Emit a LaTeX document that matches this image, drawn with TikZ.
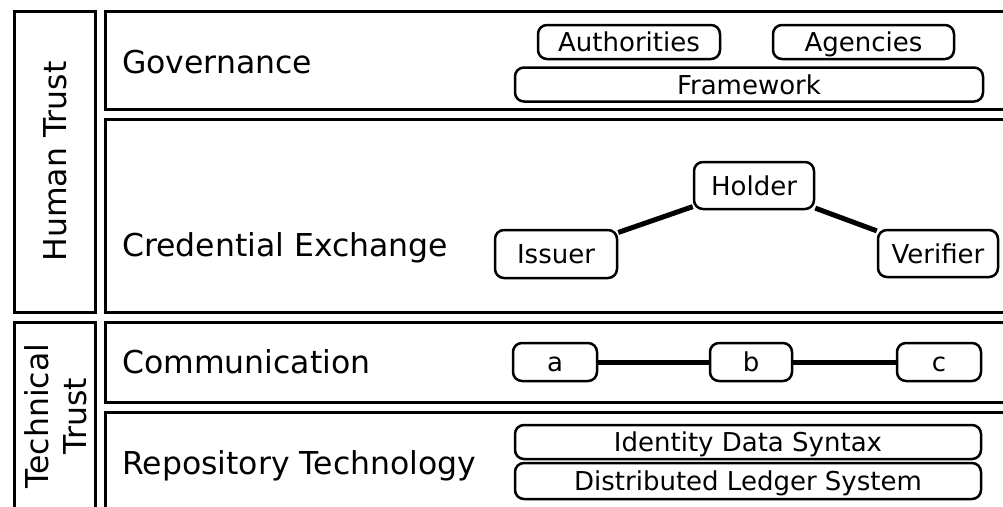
\documentclass[tikz,border=0pt]{standalone}
\usepackage{fontspec}
\setmainfont{DejaVu Sans}
\begin{document}
\begin{tikzpicture}[x=1pt,y=-1pt,
  layer/.style={draw, line width=3pt},
  big/.style={inner sep=0pt, font=\fontsize{31.5}{38}\selectfont},
  item/.style={draw, line width=2.5pt, rounded corners=9pt, inner sep=0pt,
    text height=19pt, text depth=0pt, font=\fontsize{26}{31}\selectfont},
  link/.style={line width=5pt}]
\useasboundingbox (0,0) rectangle (1003,506);
\clip (0,0) rectangle (1003,506);

% trust columns
\draw[layer] (14,11) rectangle (95,312);
\draw[layer] (14,322) rectangle (95,512);
\node[big, rotate=90] (human) at (55,161.5) {Human Trust};
\node[big, rotate=90, align=center] (technical) at (56,416) {Technical\\Trust};

% layer bands
\draw[layer] (105,11) rectangle (1012,109);
\draw[layer] (105,119) rectangle (1012,312);
\draw[layer] (105,322) rectangle (1012,402);
\draw[layer] (105,412) rectangle (1012,512);

\node[big, anchor=base west] (gov) at (122,73.5) {Governance};
\node[big, anchor=base west] (cred) at (122,256.5) {Credential Exchange};
\node[big, anchor=base west] (comm) at (122,373.5) {Communication};
\node[big, anchor=base west] (repo) at (122,474) {Repository Technology};

% governance items
\node[item, minimum width=182pt, minimum height=34pt] (auth) at (629,42) {Authorities};
\node[item, minimum width=181pt, minimum height=34pt] (agen) at (863.5,42) {Agencies};
\node[item, minimum width=468pt, minimum height=34pt] (frame) at (749,84.5) {Framework};

% credential exchange roles
\node[item, minimum width=120pt, minimum height=47pt] (holder) at (754,185.5) {Holder};
\node[item, minimum width=122pt, minimum height=48pt] (issuer) at (556,254) {Issuer};
\node[item, minimum width=120pt, minimum height=47pt] (verifier) at (938,253.5) {Verifier};
\draw[link] (issuer) -- (holder);
\draw[link] (holder) -- (verifier);

% communication chain
\node[item, minimum width=84pt, minimum height=38pt] (a) at (555,362) {a};
\node[item, minimum width=82pt, minimum height=38pt] (b) at (751,362) {b};
\node[item, minimum width=84pt, minimum height=38pt] (c) at (939,362) {c};
\draw[link] (a) -- (b);
\draw[link] (b) -- (c);

% repository items
\node[item, minimum width=466pt, minimum height=34pt] (ids) at (748,442) {Identity Data Syntax};
\node[item, minimum width=466pt, minimum height=36pt] (dls) at (748,481) {Distributed Ledger System};
\end{tikzpicture}
\end{document}
